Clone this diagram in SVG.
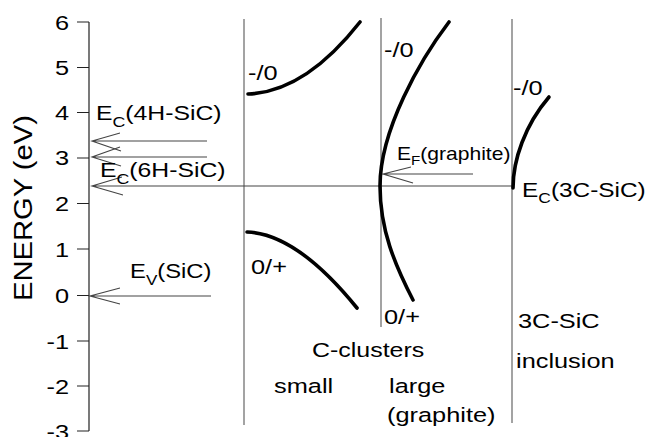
<svg xmlns="http://www.w3.org/2000/svg" width="648" height="437" viewBox="0 0 648 437">
<style>
text{font-family:"Liberation Sans",Arial,Helvetica,sans-serif;font-size:19.5px;fill:#000}
.sub{font-size:14px}
.axis{stroke:#222;stroke-width:1.2;fill:none}
.sep{stroke:#666;stroke-width:1.2;fill:none}
.lvl{stroke:#444;stroke-width:1.1;fill:none}
.curve{stroke:#000;stroke-width:3.6;fill:none;stroke-linecap:round}
</style>
<rect width="648" height="437" fill="#fff"/>
<g id="axis">
<path class="axis" d="M89,22V431M77,22H89M77,67.5H89M77,112.5H89M77,158H89M77,203.5H89M77,249H89M77,295.5H89M77,341H89M77,386H89M77,431H89"/>
<g text-anchor="end">
<text transform="translate(69,30) scale(1.3,1)">6</text>
<text transform="translate(69,75) scale(1.3,1)">5</text>
<text transform="translate(69,120) scale(1.3,1)">4</text>
<text transform="translate(69,165) scale(1.3,1)">3</text>
<text transform="translate(69,210.5) scale(1.3,1)">2</text>
<text transform="translate(69,256.5) scale(1.3,1)">1</text>
<text transform="translate(69,303) scale(1.3,1)">0</text>
<text transform="translate(69,348.5) scale(1.3,1)">-1</text>
<text transform="translate(69,393.5) scale(1.3,1)">-2</text>
<text transform="translate(69,438.5) scale(1.3,1)">-3</text>
</g>
<text transform="translate(32,208) rotate(-90)" text-anchor="middle" textLength="186" lengthAdjust="spacingAndGlyphs" style="font-size:26px">ENERGY (eV)</text>
</g>
<g id="separators">
<path class="sep" d="M244,19V425"/>
<path class="sep" d="M381,18V327"/>
<path class="sep" d="M512,19V423"/>
</g>
<g id="connectors">
<path class="lvl" d="M92,141H207M120,133L92,141L121,151"/>
<path class="lvl" d="M92,157H207M120,147L92,157L121,166"/>
<path class="lvl" d="M92,186H512M122,177L92,186L123,195"/>
<path class="lvl" d="M90,296H211M120,288L90,296L120,304"/>
<path class="lvl" d="M383,174H473M411,167L383,174L413,183"/>
</g>
<g id="label-ec-4h">
<text transform="translate(96,120) scale(1.27,1)">E<tspan class="sub" dy="7">C</tspan><tspan dy="-7">(4H-SiC)</tspan></text>
</g>
<g id="label-ec-6h">
<text transform="translate(100,177) scale(1.27,1)">E<tspan class="sub" dy="7">C</tspan><tspan dy="-7">(6H-SiC)</tspan></text>
</g>
<g id="label-ev">
<text transform="translate(130,278) scale(1.22,1)">E<tspan class="sub" dy="7">V</tspan><tspan dy="-7">(SiC)</tspan></text>
</g>
<g id="label-ef">
<text transform="translate(397,160) scale(1.17,1)" style="font-size:18px">E<tspan style="font-size:13px" dy="5">F</tspan><tspan dy="-5">(graphite)</tspan></text>
</g>
<g id="label-ec-3c">
<text transform="translate(522,197) scale(1.25,1)">E<tspan class="sub" dy="6">C</tspan><tspan dy="-6">(3C-SiC)</tspan></text>
</g>
<g id="small-cluster">
<path class="curve" d="M248,94Q305,92 360,22"/>
<path class="curve" d="M247,232C275,233 310,250 357,308"/>
<text transform="translate(248,80) scale(1.3,1)">-/0</text>
<text transform="translate(251,274) scale(1.3,1)">0/+</text>
<text transform="translate(274,393) scale(1.3,1)">small</text>
</g>
<g id="large-cluster">
<path class="curve" d="M449,22C420,60 380,130 380,186C380,230 395,265 413,300"/>
<text transform="translate(384,57) scale(1.3,1)">-/0</text>
<text transform="translate(384,324) scale(1.3,1)">0/+</text>
<text transform="translate(389,393) scale(1.3,1)">large</text>
<text transform="translate(387,422) scale(1.3,1)">(graphite)</text>
</g>
<g id="c-clusters">
<text transform="translate(312,357) scale(1.28,1)">C-clusters</text>
</g>
<g id="inclusion-3c">
<path class="curve" d="M513,188C513,160 525,125 549,97"/>
<text transform="translate(513,95) scale(1.3,1)">-/0</text>
<text transform="translate(518,328) scale(1.3,1)">3C-SiC</text>
<text transform="translate(516,368) scale(1.3,1)">inclusion</text>
</g>
</svg>
